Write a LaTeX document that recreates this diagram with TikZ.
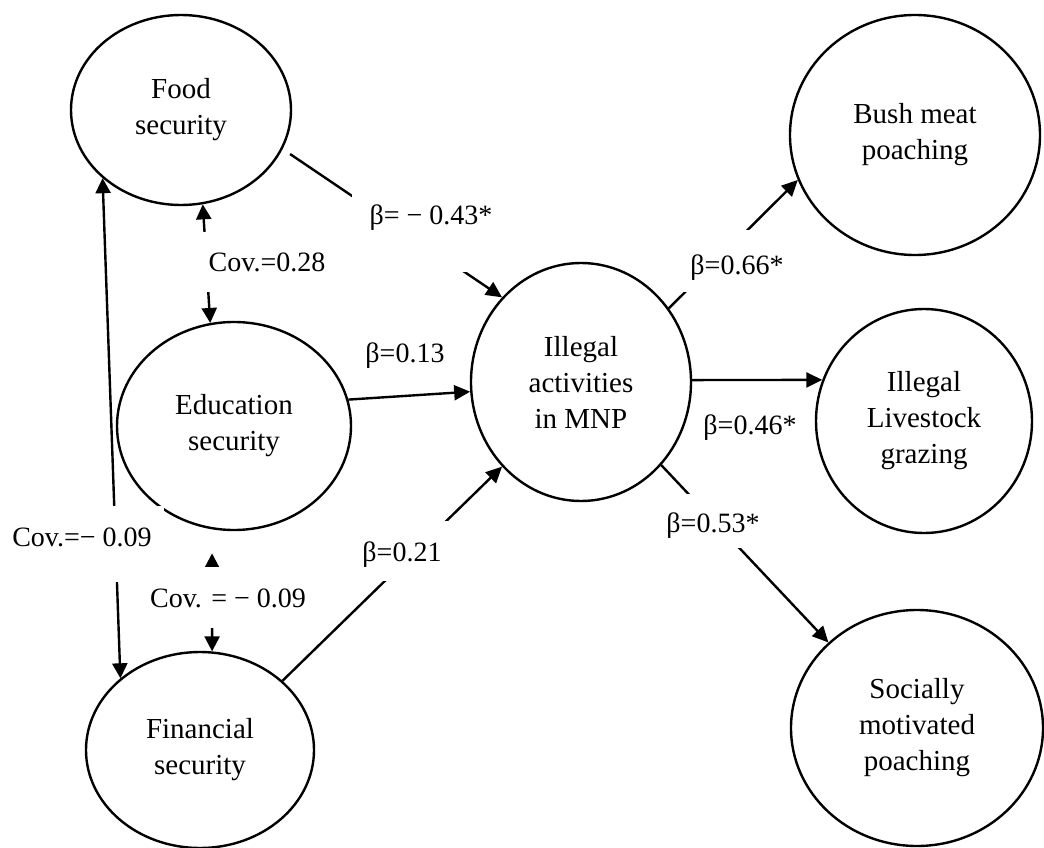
\documentclass[tikz,border=0pt]{standalone}
\usepackage{fontspec}
\setmainfont{Liberation Serif}
\usetikzlibrary{shapes.geometric,arrows.meta}
\begin{document}
\begin{tikzpicture}[x=1pt,y=-1pt,
  lat/.style={ellipse, draw, line width=2.4pt, inner sep=0pt, align=center,
    font=\fontsize{29}{36}\selectfont},
  arr/.style={line width=2.4pt, -{Triangle[length=16pt,width=15pt]}},
  darr/.style={line width=2.4pt, {Triangle[length=15pt,width=15pt]}-{Triangle[length=15pt,width=15pt]}},
  lbl/.style={font=\fontsize{28}{36}\selectfont, inner sep=0pt, anchor=base},
  mask/.style={lbl, fill=white}]
\useasboundingbox (0,0) rectangle (1044,848);
% latent variables
\node[lat, minimum width=220pt, minimum height=190pt] (food) at (181,110) {Food\\security};
\node[lat, minimum width=234pt, minimum height=208pt] (edu)  at (234,426) {Education\\security};
\node[lat, minimum width=228pt, minimum height=196pt] (fin)  at (200,750) {Financial\\security};
\node[lat, minimum width=220pt, minimum height=238pt] (ill)  at (581,382) {Illegal\\activities\\in MNP};
\node[lat, minimum width=250pt, minimum height=240pt] (bush) at (915,135) {Bush meat\\poaching};
\node[lat, minimum width=216pt, minimum height=224pt] (live) at (924,421) {Illegal\\Livestock\\grazing};
\node[lat, minimum width=252pt, minimum height=236pt] (soc)  at (917,728) {Socially\\motivated\\poaching};
% paths
\draw[arr, shorten <=9pt] (food.-21) -- (ill.133);
\draw[arr] (edu.13) -- (ill.185);
\draw[arr] (fin.40) -- (ill.-133);
\draw[arr] (ill.40) -- (bush.201);
\draw[arr] (ill.1) -- (live.158);
\draw[arr] (ill.-46) -- (soc.136);
% covariances
\draw[darr] (food.-77) -- (edu.103);
\draw[darr, shorten <=24pt] (edu.-102) -- (fin.83);
\draw[darr] (food.-139) -- (fin.138);
% labels
\node[mask, text height=37pt, text depth=48pt, minimum width=158pt] (l1) at (431,224) {β= − 0.43*};
\node[mask, text height=39pt, text depth=21pt, minimum width=155pt] (l2) at (267,271) {Cov.=0.28};
\node[mask, text height=40pt, text depth=36pt, minimum width=164pt] (l3) at (82,546) {Cov.=− 0.09};
\node[mask, text height=40pt, text depth=21pt, minimum width=180pt] (l4) at (228,607) {Cov. = − 0.09};
\node[mask, text height=40pt, text depth=20pt, minimum width=120pt] (l5) at (402,561) {β=0.21};
\node[mask, text height=44pt, text depth=18pt, minimum width=140pt] (l6) at (737,274) {β=0.66*};
\node[mask, text height=38pt, text depth=16pt, minimum width=130pt] (l7) at (713,532) {β=0.53*};
\node[lbl] (l8) at (405,362) {β=0.13};
\node[lbl] (l9) at (750,434) {β=0.46*};
\end{tikzpicture}
\end{document}
